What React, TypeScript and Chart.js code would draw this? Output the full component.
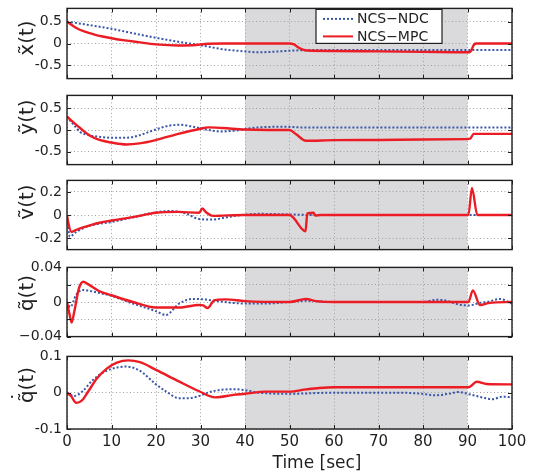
import React, { useEffect, useRef } from "react";
import { Chart, registerables } from "chart.js";
Chart.register(...registerables);

// ---------- shared ----------
const X_TICKS = [0, 10, 20, 30, 40, 50, 60, 70, 80, 90, 100];
const SHADE_FROM = 40;
const SHADE_TO = 90;
const LEGEND_LABELS = ["NCS\u2212NDC", "NCS\u2212MPC"];
const X_TITLE = "Time [sec]";

// ---------- panel 1: x~ ----------
const xTicks = [-0.5, 0, 0.5];
const xTickLabels = ["-0.5", "0", "0.5"];
const xNdcT = [0, 5, 10, 15, 20, 25, 30, 35, 40, 43, 47, 50, 55, 60, 70, 80, 90, 100];
const xNdcV = [0.5, 0.42, 0.335, 0.23, 0.13, 0.04, -0.04, -0.13, -0.18, -0.2, -0.185, -0.165, -0.15, -0.15, -0.15, -0.15, -0.15, -0.15];
const xMpcT = [0, 2, 4, 6, 8, 10, 13, 16, 20, 25, 29, 31, 35, 40, 45, 50, 51, 52, 53, 54, 60, 70, 80, 90, 90.5, 91.5, 92, 100];
const xMpcV = [0.5, 0.36, 0.27, 0.21, 0.16, 0.12, 0.07, 0.03, -0.02, -0.045, -0.035, -0.01, 0.0, 0.0, 0.0, 0.0, -0.02, -0.09, -0.14, -0.16, -0.17, -0.18, -0.19, -0.2, -0.2, -0.02, 0.0, 0.0];

// ---------- panel 2: y~ ----------
const yTicks = [-0.5, 0, 0.5];
const yTickLabels = ["-0.5", "0", "0.5"];
const yNdcT = [0, 1.5, 3, 5, 7.5, 10, 13.3, 16.3, 20, 23, 25.4, 28.4, 31.4, 34.4, 37.4, 42, 48.7, 52.4, 60, 70, 80, 90, 100];
const yNdcV = [0.31, 0.12, -0.05, -0.12, -0.16, -0.18, -0.18, -0.12, 0.014, 0.1, 0.12, 0.075, 0.01, -0.035, -0.02, 0.05, 0.075, 0.06, 0.055, 0.055, 0.055, 0.055, 0.055];
const yMpcT = [0, 1.5, 3, 5, 7.3, 10, 13.3, 16.3, 20, 25, 30, 31.8, 35, 40, 45, 50, 51.5, 53.7, 60, 70, 80, 89.8, 90.6, 91.4, 100];
const yMpcV = [0.31, 0.17, 0.04, -0.12, -0.23, -0.29, -0.335, -0.31, -0.23, -0.09, 0.03, 0.06, 0.045, 0.01, 0.0, 0.0, -0.1, -0.25, -0.235, -0.23, -0.22, -0.21, -0.2, -0.09, -0.09];

// ---------- panel 3: v~ ----------
const vTicks = [-0.2, 0, 0.2];
const vTickLabels = ["-0.2", "0", "0.2"];
const vNdcT = [0, 0.6, 2.1, 5.1, 10, 14.8, 20, 23.7, 26.7, 29.7, 32.7, 35.7, 38.7, 43.2, 50, 55, 70, 90, 100];
const vNdcV = [0, -0.187, -0.147, -0.093, -0.061, -0.021, 0.024, 0.035, 0.013, -0.035, -0.04, -0.021, -0.003, 0.01, 0.005, 0, 0, 0, 0];
const vMpcT = [0, 0.2, 1, 2, 3.6, 5.5, 7.3, 10, 14.8, 20, 25, 29.7, 30.4, 31.3, 32.8, 35, 40, 50, 53.6, 54, 55.4, 55.8, 57, 90.2, 91, 92.2, 100];
const vMpcV = [0, -0.05, -0.147, -0.13, -0.107, -0.085, -0.067, -0.048, -0.019, 0.019, 0.027, 0.019, 0.056, 0.021, -0.008, -0.005, 0, 0, -0.141, 0.013, 0.019, -0.005, 0, 0, 0.235, 0, 0];

// ---------- panel 4: q~ ----------
const qTicks = [-0.04, -0.02, 0, 0.02, 0.04];
const qTickLabels = ["\u22120.04", "", "0", "", "0.04"];
const qNdcT = [0, 0.75, 2, 3.5, 6.5, 10, 14.8, 20, 22.2, 25.2, 28.2, 31.2, 34.2, 40, 44.6, 50, 53.7, 60, 80, 82.8, 85, 88, 90.3, 92.8, 95, 97.2, 100];
const qNdcV = [0, -0.006, 0.0078, 0.014, 0.0113, 0.007, -0.0018, -0.0106, -0.015, -0.0018, 0.0035, 0.0028, 0.0007, -0.0018, -0.0018, 0, 0.0014, 0, 0, 0.0025, 0.0018, -0.0028, -0.004, -0.001, 0.0007, 0.0035, -0.0018];
const qMpcT = [0, 0.5, 1.04, 1.6, 2.7, 3.7, 4.6, 7.3, 10, 14.8, 20, 25.2, 29.7, 30.6, 31.6, 33.1, 35.7, 40, 50, 53.7, 56, 60, 90.2, 91.2, 92.8, 95, 100];
const qMpcV = [0, -0.0124, -0.0237, -0.012, 0.016, 0.0234, 0.021, 0.0124, 0.0078, 0.0, -0.0064, -0.0064, -0.0035, -0.004, -0.007, 0.0018, 0.003, 0.001, 0, 0.0035, 0.001, 0, 0, 0.0134, -0.0035, -0.001, 0];

// ---------- panel 5: q~ dot ----------
const qdTicks = [-0.1, 0, 0.1];
const qdTickLabels = ["-0.1", "0", "0.1"];
const qdNdcT = [0, 1.6, 3.5, 5.8, 9, 13.3, 16.3, 20, 22.2, 25.2, 27.5, 29.7, 32.7, 37.4, 40, 43.2, 50, 59.6, 74.6, 79.8, 82.8, 85.8, 88, 90.3, 93.3, 95.6, 97.8, 100];
const qdNdcV = [0, -0.009, 0.004, 0.035, 0.061, 0.072, 0.061, 0.023, 0.004, -0.015, -0.015, -0.009, 0.004, 0.0096, 0.007, 0, -0.003, 0, 0, -0.003, -0.007, -0.003, 0.002, -0.004, -0.013, -0.018, -0.011, -0.013];
const qdMpcT = [0, 0.9, 2.1, 3.3, 4.8, 6.7, 9, 11.2, 13.8, 16.4, 20, 25, 29.7, 33.3, 37.4, 40, 44.6, 50, 53.7, 56.7, 60, 90.2, 92.1, 94.3, 100];
const qdMpcV = [0, -0.009, -0.028, -0.022, 0.004, 0.039, 0.067, 0.083, 0.089, 0.084, 0.063, 0.032, 0.004, -0.013, -0.006, -0.003, 0.003, 0.003, 0.009, 0.013, 0.015, 0.015, 0.03, 0.024, 0.023];

// ---------- styles / layout ----------
const FONT = "'DejaVu Sans', 'Liberation Sans', sans-serif";
const NDC_COLOR = "#3a56a8";
const MPC_COLOR = "#ec1c24";
const SHADE_COLOR = "#dadadc";
const GRID_COLOR = "#a0a0a0";
const INK = "#1f1f1f";
const W = 545;
const LEFT = 67;
const RIGHT_PAD = 33;
const PAD = 10;
const LABEL_SIZE = 20;

type PanelCfg = {
  base: string;
  rest: string;
  dot?: boolean;
  plotTop: number;
  plotH: number;
  labelY: number;
  yMin: number;
  yMax: number;
  ticks: number[];
  tickLabels: string[];
  ndcT: number[];
  ndcV: number[];
  mpcT: number[];
  mpcV: number[];
  bottom?: boolean;
  legend?: boolean;
};

const PANELS: PanelCfg[] = [
  { base: "x\u0303", rest: "(t)", plotTop: 5, plotH: 77, labelY: 38, yMin: -0.8, yMax: 0.8, ticks: xTicks, tickLabels: xTickLabels, ndcT: xNdcT, ndcV: xNdcV, mpcT: xMpcT, mpcV: xMpcV, legend: true },
  { base: "y\u0303", rest: "(t)", plotTop: 92, plotH: 76, labelY: 117, yMin: -0.8, yMax: 0.8, ticks: yTicks, tickLabels: yTickLabels, ndcT: yNdcT, ndcV: yNdcV, mpcT: yMpcT, mpcV: yMpcV },
  { base: "v\u0303", rest: "(t)", plotTop: 177, plotH: 76, labelY: 202, yMin: -0.3, yMax: 0.3, ticks: vTicks, tickLabels: vTickLabels, ndcT: vNdcT, ndcV: vNdcV, mpcT: vMpcT, mpcV: vMpcV },
  { base: "q\u0303", rest: "(t)", plotTop: 264, plotH: 76, labelY: 293, yMin: -0.04, yMax: 0.04, ticks: qTicks, tickLabels: qTickLabels, ndcT: qNdcT, ndcV: qNdcV, mpcT: qMpcT, mpcV: qMpcV },
  { base: "q\u0303", rest: "(t)", dot: true, plotTop: 353, plotH: 76, labelY: 385, yMin: -0.1, yMax: 0.1, ticks: qdTicks, tickLabels: qdTickLabels, ndcT: qdNdcT, ndcV: qdNdcV, mpcT: qdMpcT, mpcV: qdMpcV, bottom: true },
];

const toXY = (t: number[], v: number[]) => t.map((x, i) => ({ x, y: v[i] }));

const decorPlugin = {
  id: "decor",
  beforeDraw(chart: any) {
    const { ctx, chartArea: a, scales } = chart;
    const x0 = scales.x.getPixelForValue(SHADE_FROM);
    const x1 = scales.x.getPixelForValue(SHADE_TO);
    ctx.save();
    ctx.fillStyle = "#ffffff";
    ctx.fillRect(a.left, a.top, a.right - a.left, a.bottom - a.top);
    ctx.fillStyle = SHADE_COLOR;
    ctx.fillRect(x0, a.top, x1 - x0, a.bottom - a.top);
    ctx.restore();
  },
  afterDraw(chart: any, _args: any, opts: any) {
    const { ctx, chartArea: a, scales } = chart;
    ctx.save();
    // inward tick marks
    ctx.strokeStyle = INK;
    ctx.lineWidth = 1;
    ctx.beginPath();
    X_TICKS.forEach((v) => {
      const px = Math.round(scales.x.getPixelForValue(v)) + 0.5;
      ctx.moveTo(px, a.top);
      ctx.lineTo(px, a.top + 4);
      ctx.moveTo(px, a.bottom);
      ctx.lineTo(px, a.bottom - 4);
    });
    (opts.ticks as number[]).forEach((v) => {
      const py = Math.round(scales.y.getPixelForValue(v)) + 0.5;
      ctx.moveTo(a.left, py);
      ctx.lineTo(a.left + 4, py);
      ctx.moveTo(a.right, py);
      ctx.lineTo(a.right - 4, py);
    });
    ctx.stroke();
    // box
    ctx.lineWidth = 1.4;
    ctx.strokeRect(a.left, a.top, a.right - a.left, a.bottom - a.top);

    // y label (rotated)
    ctx.save();
    ctx.translate(33, opts.labelY);
    ctx.rotate(-Math.PI / 2);
    ctx.fillStyle = INK;
    ctx.font = `${LABEL_SIZE}px ${FONT}`;
    ctx.textBaseline = "alphabetic";
    const full = opts.base + opts.rest;
    const wFull = ctx.measureText(full).width;
    const wBase = ctx.measureText(opts.base).width;
    ctx.textAlign = "left";
    ctx.fillText(full, -wFull / 2, 0);
    if (opts.dot) {
      ctx.textAlign = "center";
      ctx.fillText("\u02D9", -wFull / 2 + wBase / 2, -LABEL_SIZE * 0.36);
    }
    ctx.restore();

    // legend
    if (opts.legend) {
      const bx = a.left + 249;
      const by = a.top + 1;
      ctx.fillStyle = "#ffffff";
      ctx.fillRect(bx, by, 126, 34);
      ctx.lineWidth = 1.2;
      ctx.strokeStyle = INK;
      ctx.strokeRect(bx, by, 126, 34);
      const rows = [by + 9.5, by + 27];
      ctx.lineWidth = 2;
      ctx.strokeStyle = NDC_COLOR;
      ctx.setLineDash([2, 2]);
      ctx.beginPath();
      ctx.moveTo(bx + 7, rows[0]);
      ctx.lineTo(bx + 37, rows[0]);
      ctx.stroke();
      ctx.setLineDash([]);
      ctx.strokeStyle = MPC_COLOR;
      ctx.beginPath();
      ctx.moveTo(bx + 7, rows[1]);
      ctx.lineTo(bx + 37, rows[1]);
      ctx.stroke();
      ctx.fillStyle = INK;
      ctx.font = `14px ${FONT}`;
      ctx.textAlign = "left";
      ctx.textBaseline = "middle";
      ctx.fillText(LEGEND_LABELS[0], bx + 41, rows[0] + 0.5);
      ctx.fillText(LEGEND_LABELS[1], bx + 41, rows[1] + 0.5);
    }

    // x title
    if (opts.bottom) {
      ctx.fillStyle = INK;
      ctx.font = `17px ${FONT}`;
      ctx.textAlign = "center";
      ctx.textBaseline = "alphabetic";
      ctx.fillText(X_TITLE, a.left + 250, a.bottom + 39);
    }
    ctx.restore();
  },
};

function Panel({ cfg }: { cfg: PanelCfg }) {
  const ref = useRef<HTMLCanvasElement>(null);
  const canvasTop = cfg.plotTop - PAD;
  const canvasH = cfg.bottom ? 474 - canvasTop : cfg.plotH + 2 * PAD;
  const xAxisH = cfg.bottom ? canvasH - PAD - cfg.plotH : 0;

  useEffect(() => {
    const chart = new Chart(ref.current as HTMLCanvasElement, {
      type: "line",
      data: {
        datasets: [
          {
            label: LEGEND_LABELS[1],
            data: toXY(cfg.mpcT, cfg.mpcV),
            borderColor: MPC_COLOR,
            borderWidth: 2.4,
            pointRadius: 0,
            cubicInterpolationMode: "monotone",
            order: 0,
          },
          {
            label: LEGEND_LABELS[0],
            data: toXY(cfg.ndcT, cfg.ndcV),
            borderColor: NDC_COLOR,
            borderWidth: 2,
            borderDash: [2, 2],
            pointRadius: 0,
            cubicInterpolationMode: "monotone",
            order: 1,
          },
        ],
      },
      options: {
        animation: false,
        responsive: false,
        events: [],
        layout: { padding: { top: PAD, bottom: cfg.bottom ? 0 : PAD, left: 0, right: RIGHT_PAD } },
        scales: {
          x: {
            type: "linear",
            min: 0,
            max: 100,
            afterBuildTicks: (s: any) => {
              s.ticks = X_TICKS.map((v) => ({ value: v }));
            },
            afterFit: (s: any) => {
              s.height = xAxisH;
            },
            grid: { color: GRID_COLOR, lineWidth: 1, drawTicks: false },
            border: { display: false, dash: [1, 2.5] },
            ticks: {
              display: !!cfg.bottom,
              padding: 4,
              color: INK,
              font: { family: FONT, size: 15 },
              maxRotation: 0,
              autoSkip: false,
            },
          },
          y: {
            type: "linear",
            min: cfg.yMin,
            max: cfg.yMax,
            afterBuildTicks: (s: any) => {
              s.ticks = cfg.ticks.map((v) => ({ value: v }));
            },
            afterFit: (s: any) => {
              s.width = LEFT;
            },
            grid: { color: GRID_COLOR, lineWidth: 1, drawTicks: false },
            border: { display: false, dash: [1, 2.5] },
            ticks: {
              padding: 5,
              color: INK,
              font: { family: FONT, size: 14 },
              autoSkip: false,
              callback: (_v: any, i: number) => cfg.tickLabels[i],
            },
          },
        },
        plugins: {
          legend: { display: false },
          tooltip: { enabled: false },
          decor: {
            base: cfg.base,
            rest: cfg.rest,
            dot: !!cfg.dot,
            labelY: cfg.labelY - canvasTop,
            ticks: cfg.ticks,
            legend: !!cfg.legend,
            bottom: !!cfg.bottom,
          },
        } as any,
      },
      plugins: [decorPlugin],
    } as any);
    return () => chart.destroy();
  }, []);

  return (
    <canvas
      ref={ref}
      width={W}
      height={canvasH}
      style={{ position: "absolute", left: 0, top: canvasTop, width: W, height: canvasH }}
    />
  );
}

export default function App() {
  return (
    <div
      style={{
        position: "fixed",
        left: 0,
        top: 0,
        width: W,
        height: 474,
        background: "#ffffff",
        overflow: "hidden",
      }}
    >
      {PANELS.map((p, i) => (
        <Panel key={i} cfg={p} />
      ))}
    </div>
  );
}
